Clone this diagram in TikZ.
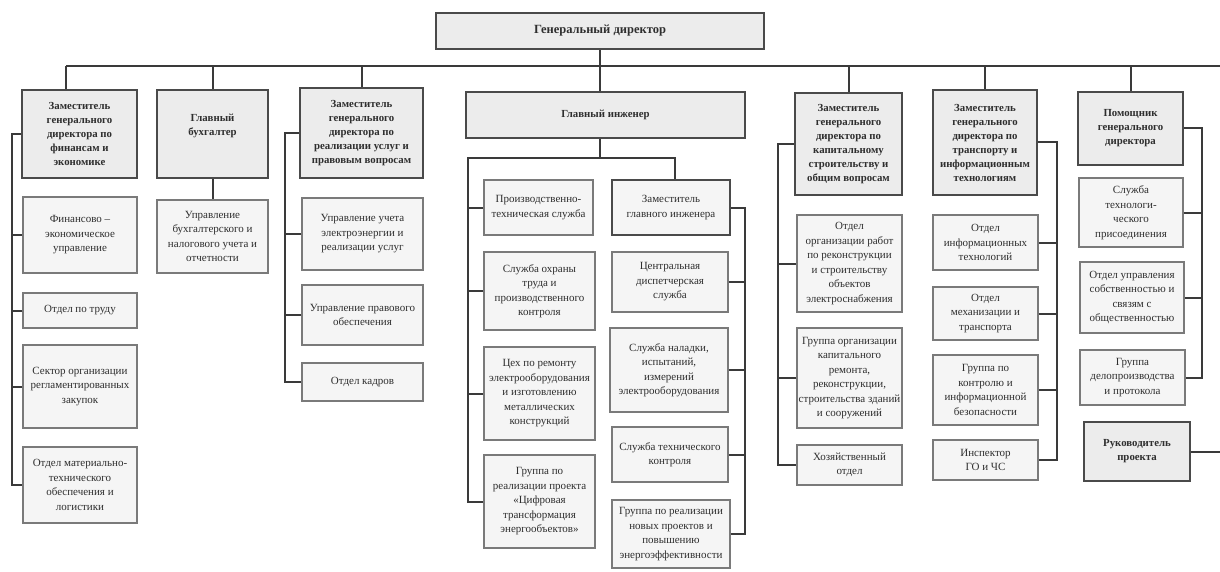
\documentclass[tikz,border=0pt]{standalone}
\usepackage{fontspec}
\setmainfont{Liberation Serif}
\definecolor{lnc}{HTML}{3A3A3A}
\definecolor{hdb}{HTML}{4A4A4A}
\definecolor{chb}{HTML}{7A7A7A}
\definecolor{hdf}{HTML}{ECECEC}
\definecolor{chf}{HTML}{F5F5F5}
\definecolor{txc}{HTML}{2E2E2E}
\tikzset{
  base/.style={rectangle, inner sep=1pt, align=center, text=txc},
  head/.style={base, draw=hdb, fill=hdf, line width=2.6pt, font=\bfseries\fontsize{10.8}{14}\selectfont},
  subhead/.style={base, draw=hdb, fill=chf, line width=2.2pt, font=\fontsize{11}{14.5}\selectfont},
  child/.style={base, draw=chb, fill=chf, line width=1.5pt, font=\fontsize{11}{14.5}\selectfont},
  conn/.style={draw=lnc, line width=2pt}
}
\newcommand\orgbox[7]{\node[#1, minimum width=#5pt-#3pt, minimum height=#6pt-#4pt] (#2) at ({(#3+#5)/2},{(#4+#6)/2}) {#7};}
\begin{document}
\begin{tikzpicture}[x=1pt,y=-1pt]
\useasboundingbox[fill=white] (0,0) rectangle (1220,572);
% top
\orgbox{head, font=\bfseries\fontsize{12.5}{14}\selectfont}{gd}{436}{13}{764}{49}{Генеральный директор}
% heads
\orgbox{head}{h1}{22}{90}{137}{178}{Заместитель\\генерального\\директора по\\финансам и\\экономике}
\orgbox{head}{h2}{157}{90}{268}{178}{Главный\\бухгалтер\\ \strut}
\orgbox{head}{h3}{300}{88}{423}{178}{Заместитель\\генерального\\директора по\\реализации услуг и\\правовым вопросам}
\orgbox{head}{h4}{466}{92}{745}{138}{Главный инженер}
\orgbox{head}{h5}{795}{93}{902}{195}{Заместитель\\генерального\\директора по\\капитальному\\строительству и\\общим вопросам}
\orgbox{head}{h6}{933}{90}{1037}{195}{Заместитель\\генерального\\директора по\\транспорту и\\информационным\\технологиям}
\orgbox{head}{h7}{1078}{92}{1183}{165}{Помощник\\генерального\\директора}
\orgbox{head}{rp}{1084}{422}{1190}{481}{Руководитель\\проекта}
% column 1
\orgbox{child}{c1a}{23}{197}{137}{273}{Финансово –\\экономическое\\управление}
\orgbox{child}{c1b}{23}{293}{137}{328}{Отдел по труду}
\orgbox{child}{c1c}{23}{345}{137}{428}{Сектор организации\\регламентированных\\закупок}
\orgbox{child}{c1d}{23}{447}{137}{523}{Отдел материально-\\технического\\обеспечения и\\логистики}
% column 2
\orgbox{child}{c2a}{157}{200}{268}{273}{Управление\\бухгалтерского и\\налогового учета и\\отчетности}
% column 3
\orgbox{child}{c3a}{302}{198}{423}{270}{Управление учета\\электроэнергии и\\реализации услуг}
\orgbox{child}{c3b}{302}{285}{423}{345}{Управление правового\\обеспечения}
\orgbox{child}{c3c}{302}{363}{423}{401}{Отдел кадров}
% column 4
\orgbox{child}{c4a}{484}{180}{593}{235}{Производственно-\\техническая служба}
\orgbox{child}{c4b}{484}{252}{595}{330}{Служба охраны\\труда и\\производственного\\контроля}
\orgbox{child}{c4c}{484}{347}{595}{440}{Цех по ремонту\\электрооборудования\\и изготовлению\\металлических\\конструкций}
\orgbox{child}{c4d}{484}{455}{595}{548}{Группа по\\реализации проекта\\«Цифровая\\трансформация\\энергообъектов»}
\orgbox{subhead}{zgi}{612}{180}{730}{235}{Заместитель\\главного инженера}
\orgbox{child}{c4e}{612}{252}{728}{312}{Центральная\\диспетчерская\\служба}
\orgbox{child}{c4f}{610}{328}{728}{412}{Служба наладки,\\испытаний,\\измерений\\электрооборудования}
\orgbox{child}{c4g}{612}{427}{728}{482}{Служба технического\\контроля}
\orgbox{child}{c4h}{612}{500}{730}{568}{Группа по реализации\\новых проектов и\\повышению\\энергоэффективности}
% column 5
\orgbox{child}{c5a}{797}{215}{902}{312}{Отдел\\организации работ\\по реконструкции\\и строительству\\объектов\\электроснабжения}
\orgbox{child}{c5b}{797}{328}{902}{428}{Группа организации\\капитального\\ремонта,\\реконструкции,\\строительства зданий\\и сооружений}
\orgbox{child}{c5c}{797}{445}{902}{485}{Хозяйственный\\отдел}
% column 6
\orgbox{child}{c6a}{933}{215}{1038}{270}{Отдел\\информационных\\технологий}
\orgbox{child}{c6b}{933}{287}{1038}{340}{Отдел\\механизации и\\транспорта}
\orgbox{child}{c6c}{933}{355}{1038}{425}{Группа по\\контролю и\\информационной\\безопасности}
\orgbox{child}{c6d}{933}{440}{1038}{480}{Инспектор\\ГО и ЧС}
% column 7
\orgbox{child}{c7a}{1079}{178}{1183}{247}{Служба\\технологи-\\ческого\\присоединения}
\orgbox{child}{c7b}{1080}{262}{1184}{333}{Отдел управления\\собственностью и\\связям с\\общественностью}
\orgbox{child}{c7c}{1080}{350}{1185}{405}{Группа\\делопроизводства\\и протокола}
% coordinates
\coordinate (busL) at (66,66);
\coordinate (busR) at (1220,66);
\coordinate (t1) at (12,0);
\coordinate (t3) at (285,0);
\coordinate (b4L) at (468,158);
\coordinate (b4R) at (675,158);
\coordinate (t4R) at (745,0);
\coordinate (t5) at (778,0);
\coordinate (t6) at (1057,0);
\coordinate (t7) at (1202,0);
\coordinate (edgeR) at (1220,0);
% bus
\draw[conn] (busL) -- (busR);
\draw[conn] (gd.south) -- (gd.south |- h4.north);
\draw[conn] (busL) -- (busL |- h1.north);
\foreach \h in {h2,h3,h5,h6,h7} \draw[conn] (\h.north |- busL) -- (\h.north);
% column 1
\draw[conn] (h1.west) -- (h1.west -| t1) |- (c1d.west);
\foreach \c in {c1a,c1b,c1c} \draw[conn] (\c.west) -- (\c.west -| t1);
% column 2
\draw[conn] (h2.south) -- (c2a.north);
% column 3
\draw[conn] (h3.west) -- (h3.west -| t3) |- (c3c.west);
\foreach \c in {c3a,c3b} \draw[conn] (\c.west) -- (\c.west -| t3);
% column 4
\draw[conn] (gd.south |- h4.south) -- (gd.south |- b4L);
\draw[conn] (b4R |- zgi.north) -- (b4R) -- (b4L) |- (c4d.west);
\foreach \c in {c4a,c4b,c4c} \draw[conn] (\c.west) -- (\c.west -| b4L);
\draw[conn] (zgi.east) -- (zgi.east -| t4R) |- (c4h.east);
\foreach \c in {c4e,c4f,c4g} \draw[conn] (\c.east) -- (\c.east -| t4R);
% column 5
\draw[conn] (h5.west) -- (h5.west -| t5) |- (c5c.west);
\foreach \c in {c5a,c5b} \draw[conn] (\c.west) -- (\c.west -| t5);
% column 6
\draw[conn] (h6.east) -- (h6.east -| t6) |- (c6d.east);
\foreach \c in {c6a,c6b,c6c} \draw[conn] (\c.east) -- (\c.east -| t6);
% column 7
\draw[conn] (h7.east) -- (h7.east -| t7) |- (c7c.east);
\foreach \c in {c7a,c7b} \draw[conn] (\c.east) -- (\c.east -| t7);
\draw[conn] (rp.east) -- (rp.east -| edgeR);
\end{tikzpicture}
\end{document}
